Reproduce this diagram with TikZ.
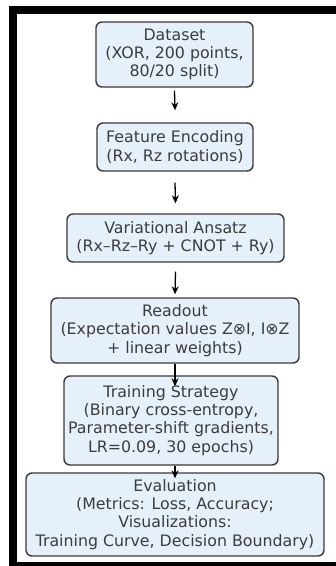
\documentclass[tikz,border=0pt]{standalone}
\usepackage{fontspec}
\setmainfont{DejaVu Sans}
\usetikzlibrary{arrows.meta}
\definecolor{boxfill}{HTML}{E6F0FB}
\definecolor{boxdraw}{HTML}{3A3A3A}
\definecolor{txt}{HTML}{3C3C3C}
\begin{document}
\begin{tikzpicture}[x=1pt,y=-1pt,
  stagebox/.style={draw=boxdraw, fill=boxfill, line width=1.4pt, rounded corners=6pt,
    align=center, inner sep=0pt, text=txt,
    font=\fontsize{15.8}{18.2}\selectfont},
  arr/.style={-{Stealth[length=8pt,width=7pt]}, line width=1.3pt, black}]
\useasboundingbox (0,0) rectangle (336,566);
\fill[white] (0,0) rectangle (336,566);
% black frame
\fill[black] (9,6) rectangle (336,14);
\fill[black] (9,6) rectangle (17,566);
\fill[black] (9,562) rectangle (336,566);
% boxes
\node[stagebox, minimum width=157pt, minimum height=65pt] (ds) at (174.5,54.5)
  {Dataset\\(XOR, 200 points,\\80/20 split)};
\node[stagebox, minimum width=156pt, minimum height=48pt] (fe) at (175,147)
  {Feature Encoding\\(Rx, Rz rotations)};
\node[stagebox, minimum width=217pt, minimum height=48pt] (va) at (175.5,238)
  {Variational Ansatz\\(Rx–Rz–Ry + CNOT + Ry)};
\node[stagebox, minimum width=248pt, minimum height=65pt] (ro) at (175,330.5)
  {Readout\\(Expectation values Z⊗I, I⊗Z\\+ linear weights)};
\node[stagebox, minimum width=214pt, minimum height=89pt] (tr) at (171,420.5)
  {Training Strategy\\(Binary cross-entropy,\\Parameter-shift gradients,\\LR=0.09, 30 epochs)};
\node[stagebox, minimum width=298pt, minimum height=83pt] (ev) at (175,514.5)
  {Evaluation\\(Metrics: Loss, Accuracy;\\Visualizations:\\Training Curve, Decision Boundary)};
% arrows
\draw[arr] ([yshift=-3pt]ds.south) -- ([yshift=12pt]fe.north);
\draw[arr] ([yshift=-11pt]fe.south) -- ([yshift=10pt]va.north);
\draw[arr] ([yshift=-9pt]va.south) -- ([yshift=3pt]ro.north);
\draw[arr] (ro.south) -- ([yshift=-11pt]ro.south |- tr.north);
\draw[arr] (tr.south -| ev.north) -- ([yshift=-6pt]ev.north);
\end{tikzpicture}
\end{document}
